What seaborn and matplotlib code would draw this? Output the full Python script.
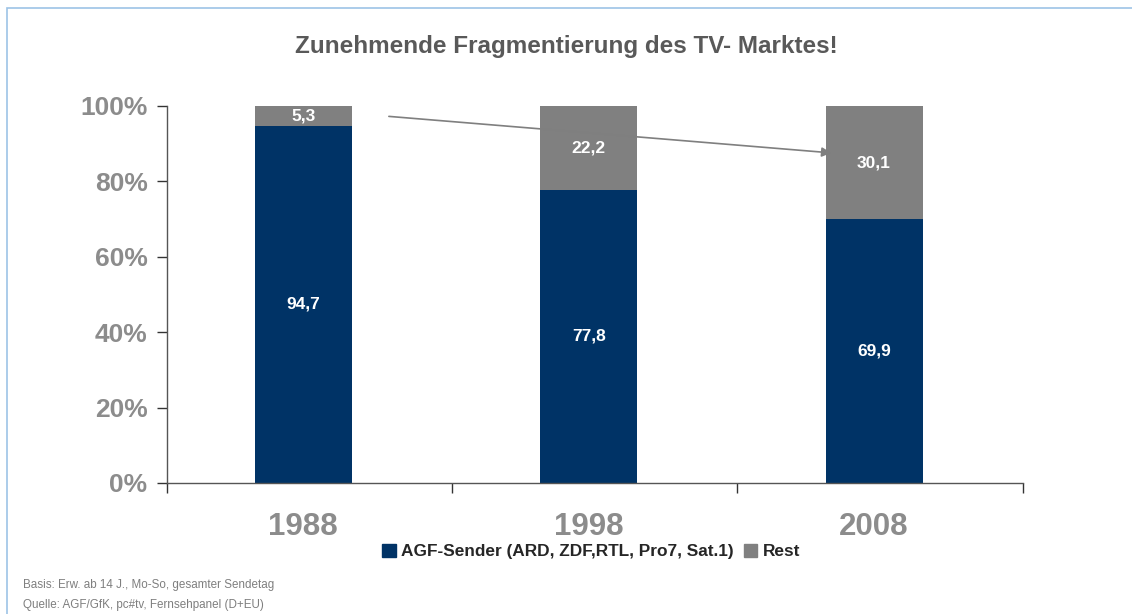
import pandas as pd
import numpy as np
import seaborn as sns
import matplotlib.pyplot as plt
from matplotlib.patches import Rectangle, Patch

years = ["1988", "1998", "2008"]
agf = [94.7, 77.8, 69.9]
rest = [5.3, 22.2, 30.1]
agf_label = "AGF-Sender (ARD, ZDF,RTL, Pro7, Sat.1)"
rest_label = "Rest"
y_ticks = [0, 20, 40, 60, 80, 100]

navy = "#003366"
grey = "#808080"
txt_grey = "#8C8C8C"

df = pd.DataFrame({"Jahr": years, "AGF": agf, "Rest": rest})
df["Total"] = df.AGF + df.Rest

sns.set_style("white")
plt.rcParams['font.family'] = ['Liberation Sans', 'DejaVu Sans']

fig = plt.figure(figsize=(11.32, 6.14), dpi=100)
ax = fig.add_axes([0.1475, 0.2134, 0.7562, 0.614])

# stacked: total bar (grey) below, AGF bar (navy) drawn on top
sns.barplot(data=df, x="Jahr", y="Total", color=grey, width=0.34, saturation=1,
            linewidth=0, ax=ax)
sns.barplot(data=df, x="Jahr", y="AGF", color=navy, width=0.34, saturation=1,
            linewidth=0, ax=ax)

for i, row in df.iterrows():
    ax.text(i, row.AGF / 2, f"{row.AGF:.1f}".replace(".", ","), ha="center", va="center",
            color="white", fontsize=12.5, fontweight="bold")
    ax.text(i, row.AGF + row.Rest / 2, f"{row.Rest:.1f}".replace(".", ","), ha="center",
            va="center", color="white", fontsize=12.5, fontweight="bold")

x0, x1 = -0.478, 2.522
ax.set_xlim(x0, x1)
ax.set_ylim(0, 100)
ax.set_yticks(y_ticks)
ax.set_yticklabels([f"{t}%" for t in y_ticks], fontsize=19, fontweight="bold", color=txt_grey)
ax.set_xticks([x0, 0.52, 1.52, x1], minor=False)
ax.set_xticklabels([])
ax.set_xticks(range(len(years)), minor=True)
ax.set_xticklabels(years, minor=True, fontsize=22.5, fontweight="bold", color=txt_grey)
ax.tick_params(axis="x", which="minor", length=0, pad=21, bottom=True)
ax.tick_params(axis="x", which="major", length=7, width=1, color="#333333",
               direction="out", bottom=True)
ax.tick_params(axis="y", length=7, width=1, color="#333333", direction="out", pad=7, left=True)
ax.set_xlabel("")
ax.set_ylabel("")
sns.despine(ax=ax)
for s in ["left", "bottom"]:
    ax.spines[s].set_color("#555555")
    ax.spines[s].set_linewidth(1)

# trend arrow
ax.annotate("", xy=(1.86, 87.5), xytext=(0.29, 97.3),
            arrowprops=dict(arrowstyle="-|>", color="#7F7F7F", lw=1.2, mutation_scale=14))

fig.text(0.5, 0.925, "Zunehmende Fragmentierung des TV- Marktes!", ha="center", va="center",
         fontsize=17.5, fontweight="bold", color="#595959")

handles = [Patch(color=navy, label=agf_label), Patch(color=grey, label=rest_label)]
fig.legend(handles=handles, loc="center", bbox_to_anchor=(0.522, 0.102), ncol=2, frameon=False,
           prop={"weight": "bold", "size": 12.4}, handlelength=0.8, handleheight=0.8,
           handletextpad=0.3, columnspacing=0.6)

fig.text(0.02, 0.048, "Basis: Erw. ab 14 J., Mo-So, gesamter Sendetag", fontsize=8.4,
         color="#7F7F7F", va="center")
fig.text(0.02, 0.015, "Quelle: AGF/GfK, pc#tv, Fernsehpanel (D+EU)", fontsize=8.4,
         color="#7F7F7F", va="center")

fig.patches.append(Rectangle((0.0065, -0.05), 1.1, 1.037, transform=fig.transFigure,
                             fill=False, edgecolor="#9DC3E6", lw=1.2))

plt.savefig("out.png", dpi=100)
